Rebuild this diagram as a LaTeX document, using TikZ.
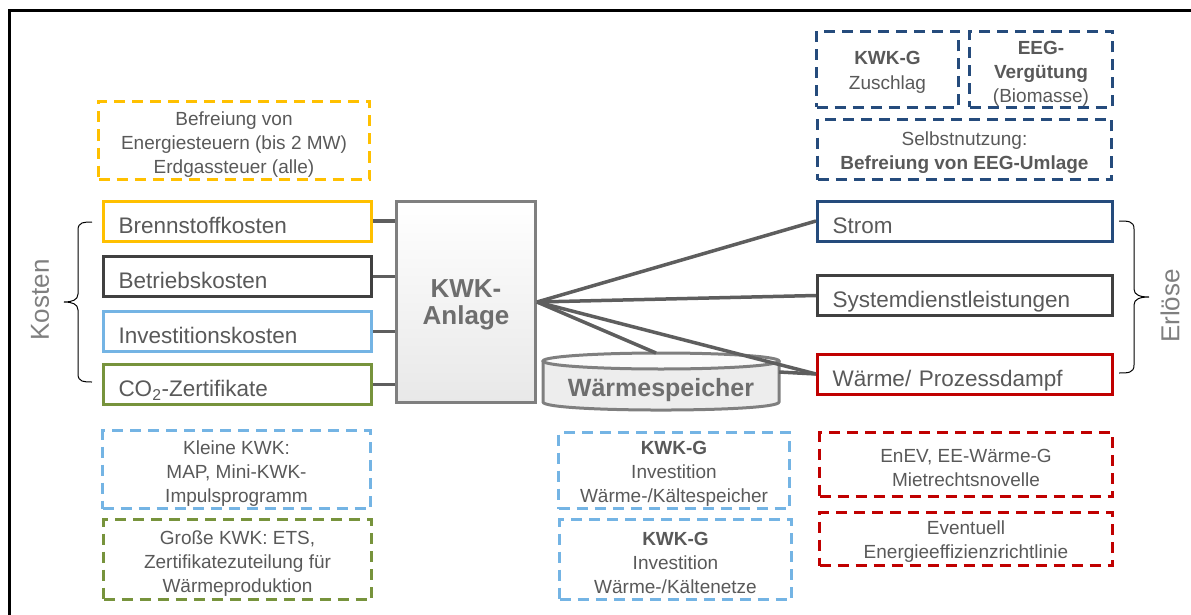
\documentclass[tikz,border=0pt]{standalone}
\usepackage{fontspec}
\setmainfont{Liberation Sans}
\definecolor{cyel}{HTML}{FFC000}
\definecolor{cdgr}{HTML}{404040}
\definecolor{clbl}{HTML}{74B4E4}
\definecolor{cgrn}{HTML}{77933C}
\definecolor{cdbl}{HTML}{254B7C}
\definecolor{cred}{HTML}{C00000}
\definecolor{ctxt}{HTML}{595959}
\definecolor{cgry}{HTML}{7F7F7F}
\definecolor{cline}{HTML}{5E5E5E}
\begin{document}
\begin{tikzpicture}[x=1pt,y=-1pt,
  sbox/.style={draw=#1, line width=3pt, minimum height=40pt, inner xsep=15pt, inner ysep=0pt,
    align=left, text height=24pt, text depth=0pt, font=\fontsize{22.5}{27}\selectfont, text=ctxt},
  lbox/.style={sbox=#1, text width=238pt},
  rbox/.style={sbox=#1, text width=265pt},
  dbox/.style={draw=#1, line width=3pt, dash pattern=on 11pt off 7pt, inner sep=0pt},
  dtext/.style={align=center, inner sep=0pt, font=\fontsize{19}{24}\selectfont, text=ctxt},
  conn/.style={draw=cline, line width=3.5pt},
  brc/.style={draw=black, line width=1pt},
  side/.style={rotate=90, text=cgry, font=\fontsize{26}{30}\selectfont}
]
\useasboundingbox (0,0) rectangle (1191,615);
\draw[line width=3pt] (9.5,615) -- (9.5,10.5) -- (1191,10.5);

% cost boxes
\node[lbox=cyel] (brenn) at (237.5,221) {Brennstoffkosten};
\node[lbox=cdgr] (betr) at (237.5,276.5) {Betriebskosten};
\node[lbox=clbl] (inv) at (237.5,331.5) {Investitionskosten};
\node[lbox=cgrn] (co2) at (237.5,384.5) {CO\textsubscript{2}-Zertifikate};

% central box
\node[draw=cgry, line width=3pt, top color=white, bottom color=black!9, minimum width=139pt, minimum height=201pt] (kwk) at (466,302) {};
\node[align=center, inner sep=0pt, text=black!57, font=\bfseries\fontsize{26}{27}\selectfont] (kwktext) at ([yshift=-3pt]kwk.center) {KWK-\\Anlage};

% revenue boxes
\node[rbox=cdbl] (strom) at (965,221) {Strom};
\node[rbox=cdgr] (sys) at (965,295.5) {Systemdienstleistungen};
\node[rbox=cred] (waerme) at (965,374) {Wärme/ Prozessdampf};

% heat storage cylinder
\fill[black!7] (543,361) -- (543,402) .. controls (543,412.7) and (779,412.7) .. (779,402) -- (779,361) -- cycle;
\draw[cgry, line width=3pt] (543,361) -- (543,402) .. controls (543,412.7) and (779,412.7) .. (779,402) -- (779,361);
\draw[cgry, line width=3pt, fill=black!2] (661,361) ellipse [x radius=118, y radius=8];
\node[text=black!57, font=\bfseries\fontsize{25}{30}\selectfont] (ws) at (661,390) {Wärmespeicher};
\coordinate (wstop) at (656,353);
\coordinate (wsright) at (779,372);

% connectors
\draw[conn] (brenn.east) -- (brenn.east -| kwk.west);
\draw[conn] (betr.east) -- (betr.east -| kwk.west);
\draw[conn] (inv.east) -- (inv.east -| kwk.west);
\draw[conn] (co2.east) -- (co2.east -| kwk.west);
\draw[conn] (kwk.east) -- (strom.west);
\draw[conn] (kwk.east) -- (sys.west);
\draw[conn] (kwk.east) -- (wstop);
\draw[conn] (kwk.east) -- (waerme.west);
\draw[conn] (wsright) -- (waerme.west);

% braces and side labels
\draw[brc] (92,222) .. controls (84,222) and (78,222) .. (78,230) -- (78,294)
  .. controls (78,300) and (72,302) .. (64,302) .. controls (72,302) and (78,304) .. (78,310)
  -- (78,374) .. controls (78,382) and (84,382) .. (92,382);
\node[side] (kosten) at (40,300) {Kosten};
\draw[brc] (1119,221) .. controls (1128,221) and (1134,221) .. (1134,229) -- (1134,289)
  .. controls (1134,295) and (1140,297) .. (1149,297) .. controls (1140,297) and (1134,299) .. (1134,305)
  -- (1134,365) .. controls (1134,373) and (1128,373) .. (1119,373);
\node[side] (erloese) at (1170,306) {Erlöse};

% dashed boxes
\node[dbox=cyel, minimum width=271pt, minimum height=78pt] (befr) at (234,140.5) {};
\node[dtext] (befrT) at ([yshift=-4pt]befr.center) {Befreiung von\\Energiesteuern (bis 2 MW)\\Erdgassteuer (alle)};
\node[dbox=cdbl, minimum width=142pt, minimum height=76pt] (kwkg) at (887.5,69.5) {};
\node[dtext, font=\fontsize{19}{25}\selectfont] (kwkgT) at ([yshift=-3pt]kwkg.center) {\textbf{KWK-G}\\Zuschlag};
\node[dbox=cdbl, minimum width=143pt, minimum height=76pt] (eeg) at (1041,69.5) {};
\node[dtext] (eegT) at ([yshift=-4pt]eeg.center) {\textbf{EEG-}\\\textbf{Vergütung}\\(Biomasse)};
\node[dbox=cdbl, minimum width=294pt, minimum height=60pt] (selbst) at (964.5,149.5) {};
\node[dtext] (selbstT) at ([yshift=-3pt]selbst.center) {Selbstnutzung:\\\textbf{Befreiung von EEG-Umlage}};
\node[dbox=clbl, minimum width=268pt, minimum height=78pt] (kleine) at (236.5,469.5) {};
\node[dtext] (kleineT) at ([yshift=-4pt]kleine.center) {Kleine KWK:\\MAP, Mini-KWK-\\Impulsprogramm};
\node[dbox=cgrn, minimum width=268pt, minimum height=80pt] (grosse) at (237.5,559.5) {};
\node[dtext] (grosseT) at ([yshift=-4pt]grosse.center) {Große KWK: ETS,\\Zertifikatezuteilung für\\Wärmeproduktion};
\node[dbox=clbl, minimum width=231pt, minimum height=76pt] (speich) at (674,470.5) {};
\node[dtext] (speichT) at ([yshift=-3pt]speich.center) {\textbf{KWK-G}\\Investition\\Wärme-/Kältespeicher};
\node[dbox=clbl, minimum width=232pt, minimum height=80pt] (netze) at (675.5,559.5) {};
\node[dtext] (netzeT) at ([yshift=-3pt]netze.center) {\textbf{KWK-G}\\Investition\\Wärme-/Kältenetze};
\node[dbox=cred, minimum width=293pt, minimum height=64pt] (enev) at (966,464.5) {};
\node[dtext] (enevT) at ([yshift=-3pt]enev.center) {EnEV, EE-Wärme-G\\Mietrechtsnovelle};
\node[dbox=cred, minimum width=293pt, minimum height=53pt] (event) at (966,539) {};
\node[dtext] (eventT) at ([yshift=-3pt]event.center) {Eventuell\\Energieeffizienzrichtlinie};
\end{tikzpicture}
\end{document}
